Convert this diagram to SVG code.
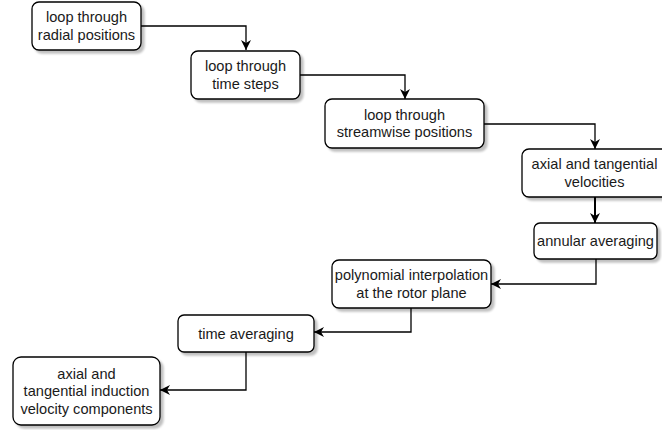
<svg xmlns="http://www.w3.org/2000/svg" width="662" height="430" viewBox="0 0 662 430">
<defs>
<filter id="sh" x="-10%" y="-10%" width="130%" height="140%">
<feGaussianBlur in="SourceAlpha" stdDeviation="1.2"/>
<feOffset dx="2.5" dy="2.5" result="o"/>
<feComponentTransfer><feFuncA type="linear" slope="0.25"/></feComponentTransfer>
<feMerge><feMergeNode/><feMergeNode in="SourceGraphic"/></feMerge>
</filter>
<marker id="arr" viewBox="0 0 10 10" refX="10" refY="5" markerWidth="10" markerHeight="10" markerUnits="userSpaceOnUse" orient="auto">
<path d="M0,0 L10,5 L0,10 L3,5 Z" fill="#000"/>
</marker>
</defs>
<style>
.box{fill:#fff;stroke:#000;stroke-width:1.3;filter:url(#sh)}
.t{font-family:"Liberation Sans",Arial,sans-serif;font-size:14.6px;fill:#1a1a1a;text-anchor:middle}
.c{fill:none;stroke:#000;stroke-width:1.3;marker-end:url(#arr)}
</style>
<g id="connectors">
<path class="c" d="M141,26 H246 V50"/>
<path class="c" d="M300,75 H405 V99"/>
<path class="c" d="M484,124 H595 V149"/>
<path class="c" d="M595,197 V223" style="stroke-width:2"/>
<path class="c" d="M596,259 V284 H491"/>
<path class="c" d="M411,308 V332 H314"/>
<path class="c" d="M246,352 V390 H160"/>
</g>
<g id="n1"><rect class="box" x="32" y="2" width="109" height="48" rx="7"/>
<text class="t" x="86.5" y="22">loop through</text><text class="t" x="86.5" y="39.5">radial positions</text></g>
<g id="n2"><rect class="box" x="191" y="51" width="109" height="48" rx="7"/>
<text class="t" x="245.5" y="71">loop through</text><text class="t" x="245.5" y="88.5">time steps</text></g>
<g id="n3"><rect class="box" x="325" y="99" width="159" height="49" rx="7"/>
<text class="t" x="404.5" y="119.5">loop through</text><text class="t" x="404.5" y="137">streamwise positions</text></g>
<g id="n4"><rect class="box" x="522" y="149" width="148" height="48" rx="7"/>
<text class="t" x="594.5" y="169">axial and tangential</text><text class="t" x="594.5" y="186.5">velocities</text></g>
<g id="n5"><rect class="box" x="534" y="223" width="123" height="36" rx="6"/>
<text class="t" x="595.5" y="246">annular averaging</text></g>
<g id="n6"><rect class="box" x="332" y="260" width="159" height="48" rx="7"/>
<text class="t" x="411.5" y="280">polynomial interpolation</text><text class="t" x="411.5" y="297.5">at the rotor plane</text></g>
<g id="n7"><rect class="box" x="178" y="315" width="136" height="37" rx="6"/>
<text class="t" x="246" y="338.5">time averaging</text></g>
<g id="n8"><rect class="box" x="13" y="357" width="147" height="68" rx="8"/>
<text class="t" x="86.5" y="378.5">axial and</text><text class="t" x="86.5" y="396">tangential induction</text><text class="t" x="86.5" y="413.5">velocity components</text></g>
</svg>
